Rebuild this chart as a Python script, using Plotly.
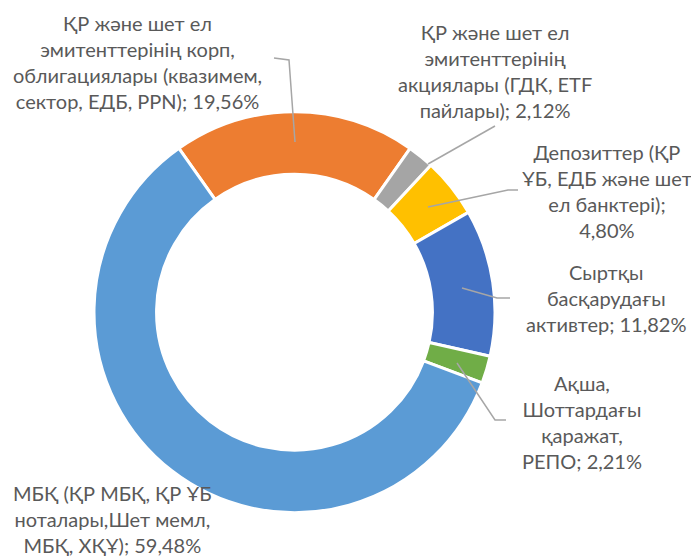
import plotly.graph_objects as go

# ---- data ----
categories = [
    "ҚР және шет ел<br>эмитенттерінің корп.<br>облигациялары (квазимем.<br>сектор, ЕДБ, PPN)",
    "ҚР және шет ел<br>эмитенттерінің<br>акциялары (ГДК, ETF<br>пайлары)",
    "Депозиттер (ҚР<br>ҰБ, ЕДБ және шет<br>ел банктері)",
    "Сыртқы<br>басқарудағы<br>активтер",
    "Ақша,<br>Шоттардағы<br>қаражат,<br>РЕПО",
    "МБҚ (ҚР МБҚ, ҚР ҰБ<br>ноталары,Шет мемл.<br>МБҚ, ХҚҰ)",
]
values = [19.56, 2.12, 4.80, 11.82, 2.21, 59.48]
colors = ["#ED7D31", "#A5A5A5", "#FFC000", "#4472C4", "#70AD47", "#5B9BD5"]

W, H = 691, 558
def px(x, y):
    return x / W, 1 - y / H

# label layout: separator between name and value, block centres and leader polylines (pixels)
label_sep = ["; ", "; ", ";<br>", "; ", "; ", "; "]
label_pos = [(137, 62), (495, 71), (607, 191), (606, 298), (582, 422), (113, 519)]
leaders = [
    [(295, 142), (289, 60), (274, 58)],
    [(428, 164), (495, 126)],
    [(428, 207), (508, 190), (518, 190)],
    [(462, 288), (497, 298), (510, 298)],
    [(457, 363), (495, 420), (506, 420)],
    None,
]

cx, cy, r = 294.5, 312.2, 200.5

fig = go.Figure(go.Pie(
    labels=categories,
    values=values,
    hole=0.688,
    sort=False,
    direction="clockwise",
    rotation=-35.2,
    marker=dict(colors=colors, line=dict(color="white", width=3)),
    textinfo="none",
    showlegend=False,
    domain=dict(x=[(cx - r) / W, (cx + r) / W], y=[(H - cy - r) / H, (H - cy + r) / H]),
))

annotations = []
for cat, v, sep, (lx, ly) in zip(categories, values, label_sep, label_pos):
    text = f"{cat}{sep}{v:.2f}%".replace(".", ",")
    x, y = px(lx, ly)
    annotations.append(dict(
        x=x, y=y, xref="paper", yref="paper", text=text, showarrow=False,
        xanchor="center", yanchor="middle", align="center",
        font=dict(family="Lato, sans-serif", size=20, color="#595959"),
    ))

shapes = []
for pts in leaders:
    if not pts:
        continue
    path = ""
    for i, (x, y) in enumerate(pts):
        X, Y = px(x, y)
        path += ("M" if i == 0 else "L") + f"{X:.5f},{Y:.5f} "
    shapes.append(dict(type="path", path=path.strip(), xref="paper", yref="paper",
                       line=dict(color="#A6A6A6", width=1.5)))

fig.update_layout(
    width=W, height=H,
    margin=dict(l=0, r=0, t=0, b=0),
    paper_bgcolor="white", plot_bgcolor="white",
    annotations=annotations, shapes=shapes,
)

fig.write_html("out.html",
               config={"displayModeBar": False},
               post_script="document.body.style.margin='0';document.body.style.overflow='hidden';")
